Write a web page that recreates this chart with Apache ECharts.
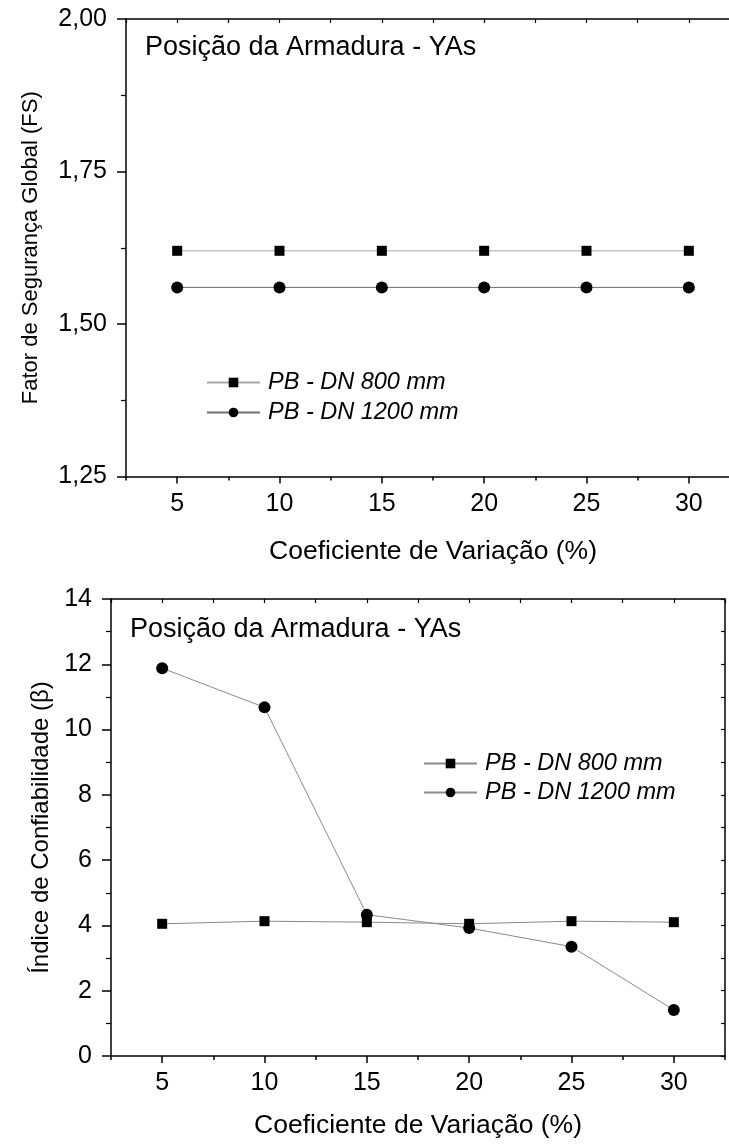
<!DOCTYPE html>
<html>
<head>
<meta charset="utf-8">
<script src="https://cdn.jsdelivr.net/npm/echarts@6/dist/echarts.min.js"></script>
<style>
  html, body { margin: 0; padding: 0; background: #fff; overflow: hidden; }
  #chart { width: 729px; height: 1146px; }
</style>
</head>
<body>
<div id="chart"></div>
<script>
// Coefficient of variation (%) on the horizontal axis
const cv = [5, 10, 15, 20, 25, 30];
// Global safety factor (FS)
const fsDN800 = [1.62, 1.62, 1.62, 1.62, 1.62, 1.62];
const fsDN1200 = [1.56, 1.56, 1.56, 1.56, 1.56, 1.56];
// Reliability index (beta)
const betaDN800 = [4.05, 4.13, 4.10, 4.05, 4.13, 4.10];
const betaDN1200 = [11.88, 10.68, 4.33, 3.92, 3.35, 1.41];
// Axis tick values
const xMajor = [5, 10, 15, 20, 25, 30];
const xMinor = [2.5, 7.5, 12.5, 17.5, 22.5, 27.5, 32.5];
const seriesNames = ['PB - DN 800 mm', 'PB - DN 1200 mm'];
const panelTitle = 'Posição da Armadura - YAs';
const xTitle = 'Coeficiente de Variação (%)';
const yTitleTop = 'Fator de Segurança Global (FS)';
const yTitleBottom = 'Índice de Confiabilidade (β)';

const FONT = 'Liberation Sans, Arial, sans-serif';
const BLACK = '#000';
const TICK_FONT = 25;

const chart = echarts.init(document.getElementById('chart'), null, { renderer: 'canvas' });

function pairs(xs, ys) { return xs.map((x, i) => [x, ys[i]]); }

// the upper panel runs past the right edge of the page
const grids = [
  { left: 126, top: 19, width: 614, height: 457.5, containLabel: false, outerBoundsMode: 'none' },
  { left: 111, top: 599, width: 614, height: 457, containLabel: false, outerBoundsMode: 'none' }
];

function xAxesFor(gi, labelMargin, nameGap) {
  const base = { gridIndex: gi, type: 'value', min: 2.5, max: 32.5, splitLine: { show: false } };
  return [
    Object.assign({}, base, {
      position: 'bottom',
      axisLine: { show: true, lineStyle: { color: BLACK, width: 1.5 } },
      axisTick: { show: true, inside: false, length: 7, customValues: xMajor, lineStyle: { color: BLACK, width: 1.5 } },
      axisLabel: { show: true, customValues: xMajor, margin: labelMargin, color: BLACK, fontFamily: FONT, fontSize: TICK_FONT },
      name: xTitle, nameLocation: 'middle', nameGap: nameGap,
      nameTextStyle: { color: BLACK, fontFamily: FONT, fontSize: 26.5 }
    }),
    Object.assign({}, base, {
      position: 'bottom',
      axisLine: { show: false },
      axisTick: { show: true, inside: false, length: 4, customValues: xMinor, lineStyle: { color: BLACK, width: 1.5 } },
      axisLabel: { show: false }
    }),
    Object.assign({}, base, {
      position: 'top',
      interval: 2.5,
      axisLine: { show: true, lineStyle: { color: BLACK, width: 1.5 } },
      axisTick: { show: true, inside: true, length: 4, lineStyle: { color: BLACK, width: 1.2 } },
      axisLabel: { show: false }
    })
  ];
}

function yAxesFor(gi, min, max, interval, fmt, name, nameGap, nameSize, rightInterval) {
  return [
    {
      gridIndex: gi, type: 'value', position: 'left', min: min, max: max, interval: interval,
      splitLine: { show: false },
      axisLine: { show: true, lineStyle: { color: BLACK, width: 1.5 } },
      axisTick: { show: true, inside: false, length: 9, lineStyle: { color: BLACK, width: 1.5 } },
      minorTick: { show: true, splitNumber: 2, length: 5, lineStyle: { color: BLACK, width: 1.2 } },
      axisLabel: { margin: 19, color: BLACK, fontFamily: FONT, fontSize: TICK_FONT, formatter: fmt },
      name: name, nameLocation: 'middle', nameGap: nameGap,
      nameTextStyle: { color: BLACK, fontFamily: FONT, fontSize: nameSize }
    },
    {
      gridIndex: gi, type: 'value', position: 'right', min: min, max: max, interval: rightInterval,
      splitLine: { show: false },
      axisLine: { show: true, lineStyle: { color: BLACK, width: 1.5 } },
      axisTick: { show: true, inside: true, length: 4, lineStyle: { color: BLACK, width: 1.2 } },
      axisLabel: { show: false }
    }
  ];
}

const fsFmt = v => v.toFixed(2).replace('.', ',');
const betaFmt = v => String(Math.round(v));

function lineSeries(name, xi, yi, data, symbol, size, lineColor) {
  return {
    name: name, type: 'line', xAxisIndex: xi, yAxisIndex: yi,
    data: data, symbol: symbol, symbolSize: size, showSymbol: true,
    lineStyle: { color: lineColor, width: 1 },
    itemStyle: { color: BLACK, borderWidth: 0 },
    emphasis: { disabled: true },
    animation: false, z: 3
  };
}

const legendText = { color: BLACK, fontFamily: FONT, fontSize: 23.5, fontStyle: 'italic', padding: [0, 0, 0, 3] };

const option = {
  backgroundColor: '#fff',
  animation: false,
  title: [
    { text: panelTitle, left: 145, top: 34, padding: 0,
      textStyle: { color: BLACK, fontFamily: FONT, fontSize: 27, fontWeight: 'normal' } },
    { text: panelTitle, left: 130, top: 616, padding: 0,
      textStyle: { color: BLACK, fontFamily: FONT, fontSize: 27, fontWeight: 'normal' } }
  ],
  legend: [
    { orient: 'vertical', left: 206, top: 371, padding: 0, itemWidth: 53, itemHeight: 12, itemGap: 7,
      data: seriesNames.map(n => ({ name: n })), textStyle: legendText, selectedMode: false },
    { orient: 'vertical', left: 423, top: 752, padding: 0, itemWidth: 53, itemHeight: 12, itemGap: 6,
      data: seriesNames.map(n => ({ name: n + ' ' })), textStyle: legendText, selectedMode: false }
  ],
  grid: grids,
  xAxis: xAxesFor(0, 15, 62).concat(xAxesFor(1, 15, 56)),
  yAxis: yAxesFor(0, 1.25, 2.0, 0.25, fsFmt, yTitleTop, 84, 22, 0.125)
    .concat(yAxesFor(1, 0, 14, 2, betaFmt, yTitleBottom, 56, 24, 1)),
  series: [
    lineSeries(seriesNames[0], 0, 0, pairs(cv, fsDN800), 'rect', 10, '#a8a8a8'),
    lineSeries(seriesNames[1], 0, 0, pairs(cv, fsDN1200), 'circle', 12, '#6e6e6e'),
    lineSeries(seriesNames[0] + ' ', 3, 2, pairs(cv, betaDN800), 'rect', 10, '#8a8a8a'),
    lineSeries(seriesNames[1] + ' ', 3, 2, pairs(cv, betaDN1200), 'circle', 12, '#8a8a8a')
  ]
};

chart.setOption(option);
</script>
</body>
</html>
